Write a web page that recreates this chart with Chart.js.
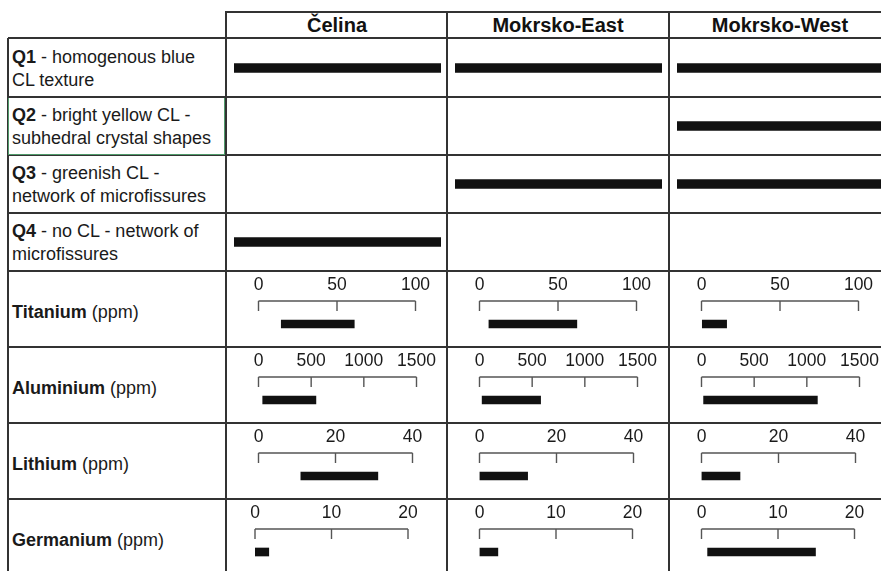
<!DOCTYPE html>
<html>
<head>
<meta charset="utf-8">
<title>Quartz types and trace elements</title>
<script src="https://cdn.jsdelivr.net/npm/chart.js@4.4.1/dist/chart.umd.min.js"></script>
<style>
  html, body { margin: 0; padding: 0; background: #fff; }
  body { width: 881px; height: 571px; overflow: hidden; font-family: "Liberation Sans", Arial, sans-serif; color: #1a1a1a; }
  #sheet { position: relative; width: 881px; height: 571px; overflow: hidden; }
  .line { position: absolute; background: #333; }
  .head { position: absolute; top: 12px; height: 26px; line-height: 26px; text-align: center; font-weight: bold; font-size: 20px; color: #111; }
  .rowlab { position: absolute; left: 12px; width: 212px; display: flex; align-items: center; font-size: 18px; line-height: 23px; color: #1a1a1a; }
  .cell { position: absolute; }
  .cell canvas { display: block; }
</style>
</head>
<body>
<div id="sheet"></div>
<script>
// Sampling sites (table columns)
const sites = ['Čelina', 'Mokrsko-East', 'Mokrsko-West'];

// Quartz generations and their CL descriptions
const qTypes = ['Q1', 'Q2', 'Q3', 'Q4'];
const qDescriptions = [
  ['homogenous blue', 'CL texture'],
  ['bright yellow CL -', 'subhedral crystal shapes'],
  ['greenish CL -', 'network of microfissures'],
  ['no CL - network of', 'microfissures']
];

// Presence (1) / absence (0) of each quartz type at each site
const qCelina = [1, 0, 0, 1];
const qMokrskoEast = [1, 0, 1, 0];
const qMokrskoWest = [1, 1, 1, 0];

// Trace elements, axis maxima and tick steps
const elements = ['Titanium', 'Aluminium', 'Lithium', 'Germanium'];
const elementMax = [100, 1500, 40, 20];
const elementStep = [50, 500, 20, 10];

// Concentration ranges [min, max] in ppm per site (Čelina, Mokrsko-East, Mokrsko-West)
const titaniumRange = [[14.5, 61], [6, 62], [0.5, 16]];
const aluminiumRange = [[40, 545], [25, 580], [20, 1100]];
const lithiumRange = [[11, 31], [0, 12.5], [0, 10]];
const germaniumRange = [[0, 1.8], [0, 2.4], [0.8, 14.9]];

const qPresence = [qCelina, qMokrskoEast, qMokrskoWest];
const elementRanges = [titaniumRange, aluminiumRange, lithiumRange, germaniumRange];

// ---- table geometry ----
const colX = [226, 447, 669];
const colW = 222;
const rowY = [38, 97, 155, 213, 271, 347, 423, 499, 575];
const leftX = 8;
const inkColor = '#111';

const sheet = document.getElementById('sheet');

function addLine(x, y, w, h, color) {
  const d = document.createElement('div');
  d.className = 'line';
  d.style.left = x + 'px';
  d.style.top = y + 'px';
  d.style.width = w + 'px';
  d.style.height = h + 'px';
  if (color) d.style.background = color;
  sheet.appendChild(d);
}

// header row
sites.forEach((s, i) => {
  const h = document.createElement('div');
  h.className = 'head';
  h.style.left = colX[i] + 'px';
  h.style.width = colW + 'px';
  h.textContent = s;
  sheet.appendChild(h);
});

// row labels: quartz types
qTypes.forEach((q, i) => {
  const d = document.createElement('div');
  d.className = 'rowlab';
  d.style.top = (rowY[i] + 1) + 'px';
  d.style.height = (rowY[i + 1] - rowY[i]) + 'px';
  d.innerHTML = '<div><b>' + q + '</b> - ' + qDescriptions[i][0] + '<br>' + qDescriptions[i][1] + '</div>';
  sheet.appendChild(d);
});

// row labels: elements
elements.forEach((el, i) => {
  const r = 4 + i;
  const d = document.createElement('div');
  d.className = 'rowlab';
  d.style.top = (rowY[r] + 3) + 'px';
  d.style.height = (rowY[r + 1] - rowY[r]) + 'px';
  if (r === 7) d.style.height = (571 - rowY[r] + 4) + 'px';
  d.innerHTML = '<div><b>' + el + '</b> (ppm)</div>';
  sheet.appendChild(d);
});

// grid lines
addLine(colX[0], 11, 881 - colX[0], 1.6);
for (let r = 0; r < rowY.length - 1; r++) addLine(leftX, rowY[r] - 0.8, 881 - leftX, 1.6);
addLine(leftX - 0.8, rowY[0], 1.6, 571 - rowY[0]);
colX.forEach(x => addLine(x - 0.8, 11, 1.6, 571 - 11));
// highlighted Q2 label cell
addLine(leftX, rowY[1] + 0.8, 1.2, rowY[2] - rowY[1] - 1.6, '#4f9a6a');
addLine(colX[0] - 1.8, rowY[1] + 0.8, 1.2, rowY[2] - rowY[1] - 1.6, '#4f9a6a');
addLine(leftX, rowY[2] - 1.2, colX[0] - leftX - 1, 1.2, '#4f9a6a');

Chart.defaults.font.family = '"Liberation Sans", Arial, sans-serif';
Chart.defaults.animation = false;

function makeCanvas(x, y, w, h) {
  const wrap = document.createElement('div');
  wrap.className = 'cell';
  wrap.style.left = x + 'px';
  wrap.style.top = y + 'px';
  wrap.style.width = w + 'px';
  wrap.style.height = h + 'px';
  const c = document.createElement('canvas');
  c.width = w;
  c.height = h;
  c.style.width = w + 'px';
  c.style.height = h + 'px';
  wrap.appendChild(c);
  sheet.appendChild(wrap);
  return c;
}

// quartz-type presence bars: one chart per site column
qPresence.forEach((pres, i) => {
  const h = rowY[4] - rowY[0];
  const c = makeCanvas(colX[i], rowY[0], colW, h);
  new Chart(c, {
    type: 'bar',
    data: {
      labels: qTypes,
      datasets: [{
        data: pres.map(v => (v ? [0, 1] : null)),
        backgroundColor: inkColor,
        borderWidth: 0,
        barThickness: 9
      }]
    },
    options: {
      indexAxis: 'y',
      responsive: false,
      layout: { padding: { left: 8, right: 7, top: 1, bottom: 0 } },
      plugins: { legend: { display: false }, tooltip: { enabled: false } },
      scales: {
        x: { display: false, min: 0, max: 1 },
        y: { display: false }
      }
    }
  });
});

// bracket-style axis drawn under the top tick labels
const bracketAxis = {
  id: 'bracketAxis',
  afterDraw(chart) {
    const sx = chart.scales.x;
    const y0 = chart.chartArea.top;
    const ctx = chart.ctx;
    ctx.save();
    ctx.strokeStyle = '#555';
    ctx.lineWidth = 1.4;
    ctx.beginPath();
    ctx.moveTo(sx.getPixelForValue(sx.min), y0);
    ctx.lineTo(sx.getPixelForValue(sx.max), y0);
    sx.ticks.forEach(t => {
      const px = sx.getPixelForValue(t.value);
      ctx.moveTo(px, y0);
      ctx.lineTo(px, y0 + 10);
    });
    ctx.stroke();
    ctx.restore();
  }
};

// per-row pixel span of the axis inside a cell
const axisSpan = [157, 158, 154, 153];

// concentration-range charts: one per element and site
elementRanges.forEach((ranges, e) => {
  const r = 4 + e;
  const h = 76;
  ranges.forEach((range, s) => {
    const c = makeCanvas(colX[s], rowY[r], colW, h);
    const left = (e === 3 && s === 0) ? 29 : 32.5;
    new Chart(c, {
      type: 'bar',
      data: {
        labels: [elements[e]],
        datasets: [{
          data: [range],
          backgroundColor: inkColor,
          borderWidth: 0,
          barThickness: 8
        }]
      },
      options: {
        indexAxis: 'y',
        responsive: false,
        layout: { padding: { left: left, right: colW - left - axisSpan[e], top: 0, bottom: 0 } },
        plugins: { legend: { display: false }, tooltip: { enabled: false } },
        scales: {
          x: {
            position: 'top',
            min: 0,
            max: elementMax[e],
            grid: { display: false, drawTicks: false, tickLength: 0 },
            border: { display: false },
            afterFit(scale) { scale.height = 30; },
            ticks: {
              stepSize: elementStep[e],
              autoSkip: false,
              maxRotation: 0,
              padding: 5,
              color: '#1a1a1a',
              font: { size: 17.5 },
              callback: v => String(v)
            }
          },
          y: { display: false }
        }
      },
      plugins: [bracketAxis]
    });
  });
});
</script>
</body>
</html>
